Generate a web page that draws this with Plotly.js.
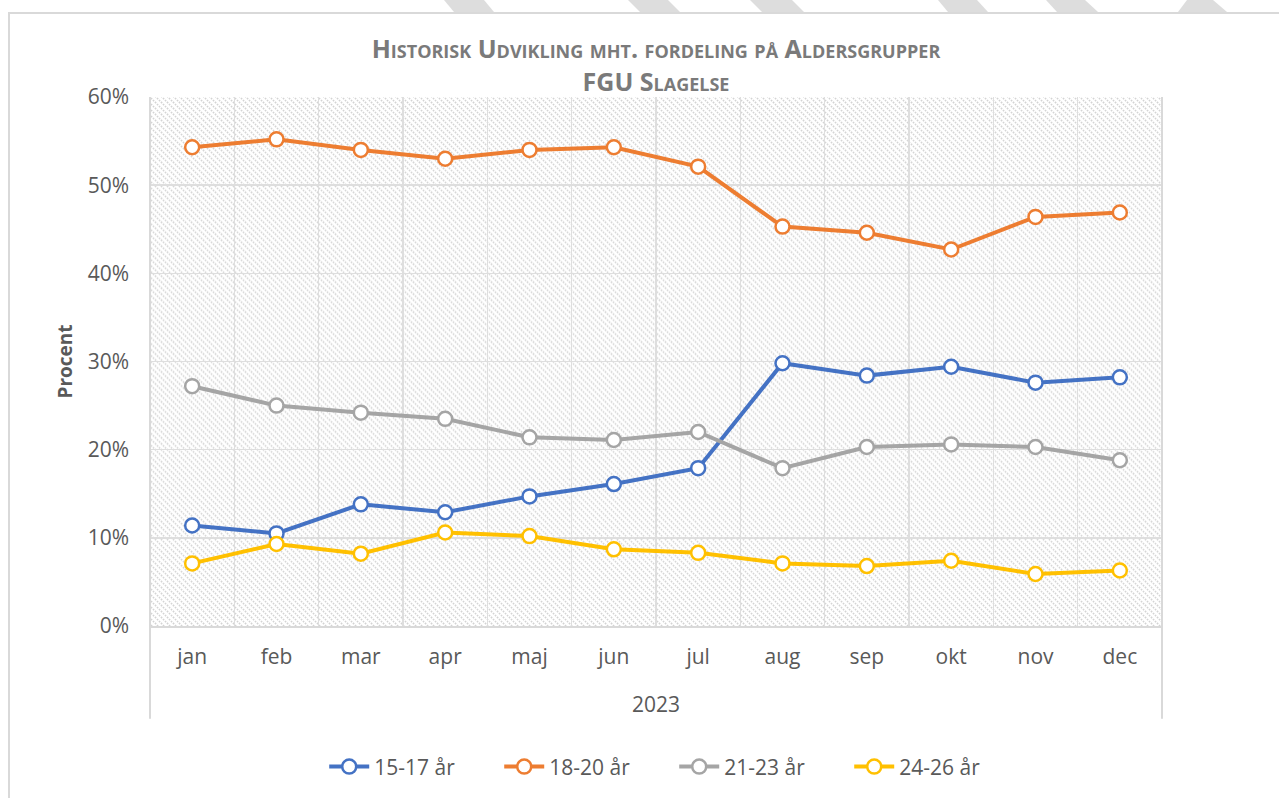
<!DOCTYPE html>
<html>
<head>
<meta charset="utf-8">
<script src="https://cdn.plot.ly/plotly-3.0.1.min.js"></script>
<style>
  html, body { margin:0; padding:0; background:#fff; width:1279px; height:798px; overflow:hidden; }
  #frame { position:absolute; left:8px; top:12px; width:1300px; height:820px; border-top:2px solid #d9d9d9; border-left:2px solid #d9d9d9; box-sizing:border-box; }
  #stripes { position:absolute; left:0; top:0; }
  #chart { position:absolute; left:0; top:0; width:1279px; height:798px; }
</style>
</head>
<body>
<svg id="stripes" width="1279" height="13">
  <g fill="#dddddd">
    <polygon points="444,0 484,0 494,12 454,12"/>
    <polygon points="628,0 668,0 680,12 640,12"/>
    <polygon points="750,0 792,0 804,12 762,12"/>
    <polygon points="938,0 977,0 988,12 948,12"/>
    <polygon points="1046,0 1085,0 1098,12 1057,12"/>
    <polygon points="1187,0 1213,0 1227,12 1178,12"/>
  </g>
</svg>
<div id="frame"></div>
<div id="chart"></div>
<script>
const months = ["jan","feb","mar","apr","maj","jun","jul","aug","sep","okt","nov","dec"];
const year = "2023";
const s1517 = [0.114,0.105,0.138,0.129,0.147,0.161,0.179,0.298,0.284,0.294,0.276,0.282];
const s1820 = [0.543,0.552,0.540,0.530,0.540,0.543,0.521,0.453,0.446,0.427,0.464,0.469];
const s2123 = [0.272,0.250,0.242,0.235,0.214,0.211,0.220,0.179,0.203,0.206,0.203,0.188];
const s2426 = [0.071,0.093,0.082,0.106,0.102,0.087,0.083,0.071,0.068,0.074,0.059,0.063];
const seriesNames = ["15-17 år","18-20 år","21-23 år","24-26 år"];
const seriesColors = ["#4472C4","#ED7D31","#A5A5A5","#FFC000"];
const seriesValues = [s1517, s1820, s2123, s2426];

const traces = seriesValues.map((vals, i) => ({
  type: "scatter",
  mode: "lines+markers",
  x: months,
  y: vals,
  name: seriesNames[i],
  line: { color: seriesColors[i], width: 4 },
  marker: { symbol: "circle", size: 14, color: "#ffffff", line: { color: seriesColors[i], width: 2.5 } },
  cliponaxis: false
}));

const hatch = '<svg xmlns="http://www.w3.org/2000/svg" width="1012" height="530">' +
  '<defs><pattern id="p" width="6" height="6" patternUnits="userSpaceOnUse">' +
  '<path d="M-1,-1 L7,7 M-1,5 L1,7 M5,-1 L7,1" stroke="#d3d3d3" stroke-width="1.6" stroke-dasharray="1.6,1.2"/>' +
  '</pattern></defs><rect width="1012" height="530" fill="url(#p)"/></svg>';

const txt = "#595959";
const layout = {
  width: 1279, height: 798,
  margin: { l: 150, r: 117, t: 97, b: 171 },
  paper_bgcolor: "rgba(0,0,0,0)",
  plot_bgcolor: "rgba(0,0,0,0)",
  font: { family: "Open Sans, sans-serif", color: txt, size: 21 },
  title: {
    text: "Historisk Udvikling mht. fordeling på Aldersgrupper<br>FGU Slagelse",
    font: { family: "Open Sans, sans-serif", size: 25, color: "#7a7a7a", weight: 700, variant: "small-caps" },
    x: 0.5, xref: "paper", xanchor: "center",
    y: 1 - 58/798, yref: "container", yanchor: "top"
  },
  xaxis: {
    type: "category",
    tickson: "boundaries",
    ticks: "",
    showgrid: true, gridcolor: "#dedede", gridwidth: 1.5,
    showline: true, linecolor: "#d9d9d9", linewidth: 2,
    tickfont: { size: 21, color: txt },
    ticklabelstandoff: 11,
    range: [-0.5, 11.5],
    fixedrange: true
  },
  yaxis: {
    range: [0, 0.6],
    dtick: 0.1,
    tickformat: ".0%",
    ticks: "",
    showgrid: true, gridcolor: "#dedede", gridwidth: 1.5,
    zeroline: false,
    showline: false,
    tickfont: { size: 21, color: txt },
    ticklabelstandoff: 20,
    title: { text: "Procent", font: { size: 19, color: txt, weight: 700 }, standoff: 9 }
  },
  legend: {
    orientation: "h",
    x: 0.518, xanchor: "center",
    y: -0.264, yanchor: "middle",
    font: { size: 21, color: txt },
    itemwidth: 40,
    entrywidth: 120,
    entrywidthmode: "pixels",
    bgcolor: "rgba(0,0,0,0)"
  },
  images: [{
    source: "data:image/svg+xml;charset=utf-8," + encodeURIComponent(hatch),
    xref: "paper", yref: "paper", x: 0, y: 1, sizex: 1, sizey: 1,
    xanchor: "left", yanchor: "top", sizing: "stretch", layer: "below"
  }],
  shapes: [
    { type: "line", xref: "paper", yref: "paper", x0: 0, x1: 0, y0: -0.1755, y1: 1, line: { color: "#d9d9d9", width: 2 } },
    { type: "line", xref: "paper", yref: "paper", x0: 1, x1: 1, y0: -0.1755, y1: 1, line: { color: "#d9d9d9", width: 2 } }
  ],
  annotations: [{
    text: year, xref: "paper", yref: "paper", x: 0.5, y: -0.147,
    xanchor: "center", yanchor: "middle", showarrow: false,
    font: { size: 21, color: txt }
  }],
  showlegend: true
};

Plotly.newPlot("chart", traces, layout, { displayModeBar: false, staticPlot: true });
</script>
</body>
</html>
